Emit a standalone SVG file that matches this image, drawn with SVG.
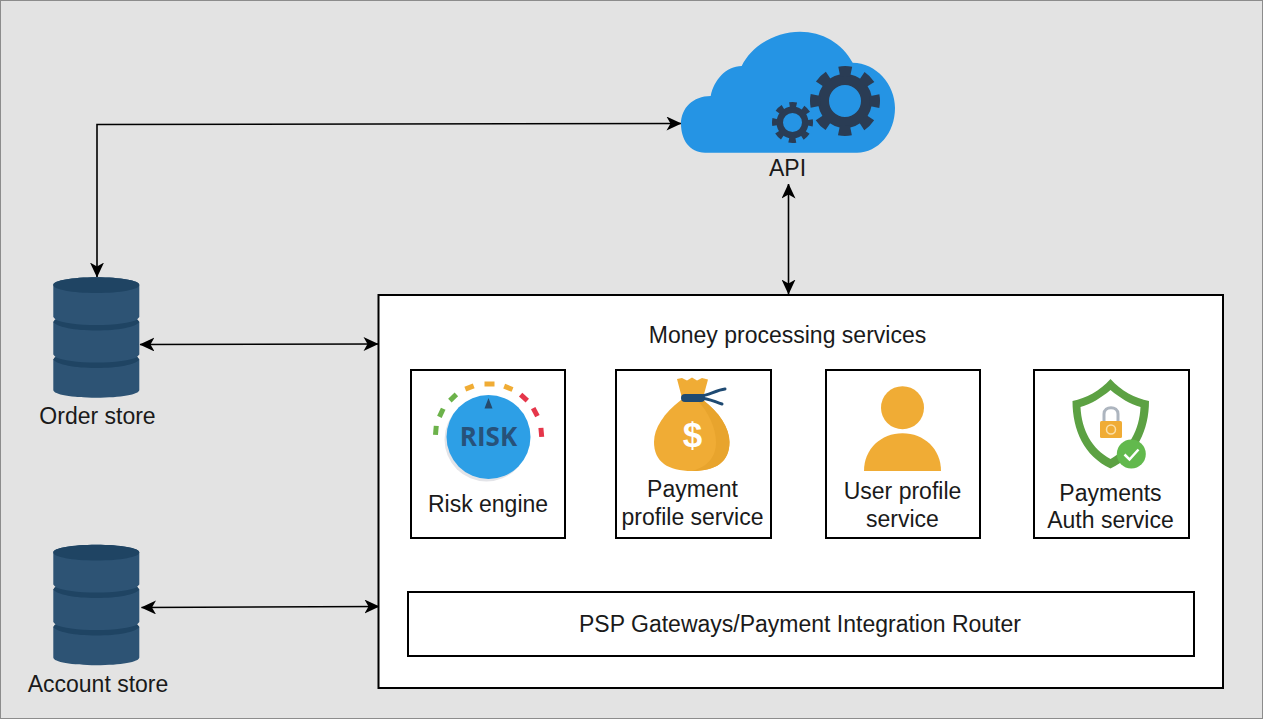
<svg xmlns="http://www.w3.org/2000/svg" xmlns:xlink="http://www.w3.org/1999/xlink" width="1263" height="719" viewBox="0 0 1263 719">
<style>
text{font-family:"Liberation Sans",Arial,sans-serif;font-size:23px;fill:#1a1a1a;text-anchor:middle}
.box{fill:#fff;stroke:#000;stroke-width:2}
.conn{fill:none;stroke:#000;stroke-width:1.6}
.gear{fill:none;stroke:#2a3c54}
</style>
<defs>
<marker id="arr" viewBox="0 0 15 14" refX="14.500" refY="7" markerWidth="15" markerHeight="14" markerUnits="userSpaceOnUse" orient="auto-start-reverse">
<path d="M0 0L15 7L0 14L4 7Z" fill="#000"/>
</marker>
<g id="cyl">
<path d="M53.300 285C53.300 280.500 72 277.300 96.300 277.300C120.600 277.300 139.300 280.500 139.300 285L139.300 317L137 319.500L139.300 322L139.300 354.500L137 357L139.300 359.500L139.300 390C139.300 394.500 120.600 397.700 96.300 397.700C72 397.700 53.300 394.500 53.300 390L53.300 359.500L55.500 357L53.300 354.500L53.300 322L55.500 319.500L53.300 317Z" fill="#2d5374"/>
<path d="M53.300 285C53.300 280.500 72 277.300 96.300 277.300C120.600 277.300 139.300 280.500 139.300 285C139.300 289.500 120.600 293 96.300 293C72 293 53.300 289.500 53.300 285Z" fill="#1f4463"/>
<path d="M55 319.500C62 323 78 325 96.300 325C114.600 325 131 323 137.500 319.500L139.300 322C136 327 118 330.500 96.300 330.500C75 330.500 57 327 53.300 322Z" fill="#1f4463"/>
<path d="M55 357C62 360.500 78 362.500 96.300 362.500C114.600 362.500 131 360.500 137.500 357L139.300 359.500C136 364.500 118 368 96.300 368C75 368 57 364.500 53.300 359.500Z" fill="#1f4463"/>
</g>
</defs>
<rect x="0.500" y="0.500" width="1262" height="718" fill="#e3e3e3" stroke="#8c8c8c"/>

<g id="connectors">
<path class="conn" d="M97 277V124.500L681 123.500" marker-start="url(#arr)" marker-end="url(#arr)"/>
<path class="conn" d="M788.500 184V294" marker-start="url(#arr)" marker-end="url(#arr)"/>
<path class="conn" d="M140 344.500L378 344" marker-start="url(#arr)" marker-end="url(#arr)"/>
<path class="conn" d="M141.500 607.500L379 606.500" marker-start="url(#arr)" marker-end="url(#arr)"/>
</g>

<g id="api">
<path d="M705 152.700C689 152.700 681 139 681 124C681 108 693 96 710.700 96C714 80 726 66 741.700 66C752 45 776 31.700 800 31.700C822 31.700 842 43 852.700 62.700C876 63 895 84 895 108C895 133 878 152.700 857 152.700Z" fill="#2594e4"/>
<circle class="gear" cx="845" cy="101" r="21.500" stroke-width="11"/>
<circle class="gear" cx="845" cy="101" r="30" stroke-width="10" stroke-dasharray="12 11.560" stroke-dashoffset="6"/>
<circle class="gear" cx="792.500" cy="122.500" r="12.750" stroke-width="6.500"/>
<circle class="gear" cx="792.500" cy="122.500" r="17.500" stroke-width="6" stroke-dasharray="7 6.740" stroke-dashoffset="3.500"/>
<text x="787.500" y="176">API</text>
</g>

<g id="order-store">
<use href="#cyl"/>
<text x="97.500" y="424">Order store</text>
</g>
<g id="account-store">
<use href="#cyl" y="267.500"/>
<text x="98" y="692">Account store</text>
</g>

<g id="money-processing">
<rect class="box" x="378.500" y="295" width="844.500" height="393"/>
<text x="787.500" y="343">Money processing services</text>
</g>

<g id="risk-engine">
<rect class="box" x="411" y="370" width="154" height="168"/>
<g>
<rect x="486" y="381.500" width="9" height="5" fill="#6cb24a" transform="rotate(-85 488.500 437)"/>
<rect x="486" y="381.500" width="9" height="5" fill="#6cb24a" transform="rotate(-65 488.500 437)"/>
<rect x="486" y="381.500" width="9" height="5" fill="#6cb24a" transform="rotate(-44 488.500 437)"/>
<rect x="484" y="381.500" width="9" height="5" fill="#f0ac35" transform="rotate(-21 488.500 437)"/>
<rect x="484.500" y="381.500" width="10" height="5" fill="#f0ac35"/>
<rect x="484" y="381.500" width="9" height="5" fill="#f0ac35" transform="rotate(22 488.500 437)"/>
<rect x="484" y="381.500" width="9" height="5" fill="#e5364a" transform="rotate(42 488.500 437)"/>
<rect x="484" y="381.500" width="9" height="5" fill="#e5364a" transform="rotate(62 488.500 437)"/>
<rect x="484" y="381.500" width="9" height="5" fill="#e5364a" transform="rotate(85 488.500 437)"/>
</g>
<circle cx="486.500" cy="439.500" r="42" fill="#e3e4e8"/>
<circle cx="488.500" cy="437" r="42" fill="#2d9fe6"/>
<path d="M488.500 398L484.500 408.500H492.500Z" fill="#264a6b"/>
<text x="488.500" y="446" style="font-size:26px;font-weight:700;fill:#27527a;font-family:'Open Sans','Liberation Sans',sans-serif">RISK</text>
<text x="488" y="512">Risk engine</text>
</g>

<g id="payment-profile">
<rect class="box" x="616" y="370" width="155" height="168"/>
<path d="M682 398L677 379L682 378L687 380.500L692 377.500L697 380.500L702 378L708 379.500L703 398Z" fill="#f0ac35"/>
<path d="M681 400C664 413 654 428 654 442C654 462 668 471 692 471C716 471 729.500 462 729.500 442C729.500 428 719 412 703 400Z" fill="#f0ac35"/>
<path d="M703 400C719 412 729.500 428 729.500 442C729.500 462 716 471 692 471C710 466 716 455 716 442C716 428 708 411 697 400Z" fill="#e8a42d"/>
<path d="M700 396C708 396 716 390 725 389" fill="none" stroke="#1f4a72" stroke-width="3" stroke-linecap="round"/>
<path d="M700 398C708 398 715 402 722 404" fill="none" stroke="#1f4a72" stroke-width="3" stroke-linecap="round"/>
<rect x="681" y="394" width="24" height="8" rx="4" fill="#1f4a72"/>
<text x="692.500" y="447" style="font-size:35px;font-weight:700;fill:#fff">$</text>
<text x="692.500" y="497">Payment</text>
<text x="692.500" y="525">profile service</text>
</g>

<g id="user-profile">
<rect class="box" x="826" y="370" width="154" height="168"/>
<circle cx="902.500" cy="407.700" r="21.500" fill="#f0ac35"/>
<path d="M864 471C864 449 881 433.300 902.500 433.300C924 433.300 941 449 941 471Z" fill="#f0ac35"/>
<text x="902.500" y="499">User profile</text>
<text x="902.500" y="527">service</text>
</g>

<g id="payments-auth">
<rect class="box" x="1034" y="370" width="155" height="168"/>
<path d="M1110.500 379C1100 391 1086 398 1072.500 401C1072.500 430 1084 456 1110.500 468.500C1137 456 1149 430 1149 401C1135 398 1121 391 1110.500 379Z" fill="#5ca143"/>
<path d="M1110.500 390C1101 398 1091 404 1080.500 407C1081.500 430 1092 449 1110.500 459C1129 449 1139.500 430 1140.500 407C1130 404 1120 398 1110.500 390Z" fill="#fff"/>
<path d="M1104 422V414C1104 405.500 1118 405.500 1118 414V422" fill="none" stroke="#adb5bf" stroke-width="3"/>
<rect x="1100" y="421" width="22" height="17" rx="1.500" fill="#f0ac35"/>
<circle cx="1111" cy="429.500" r="4.500" fill="none" stroke="#fbe0a8" stroke-width="1.500"/>
<circle cx="1131.300" cy="454" r="14.500" fill="#62b94d"/>
<path d="M1124.500 454.500L1129.500 459.500L1138.500 449.500" fill="none" stroke="#fff" stroke-width="2.500"/>
<text x="1110.500" y="501">Payments</text>
<text x="1110.500" y="528">Auth service</text>
</g>

<g id="psp-gateway">
<rect class="box" x="408" y="592" width="786" height="64"/>
<text x="800" y="632">PSP Gateways/Payment Integration Router</text>
</g>
</svg>
